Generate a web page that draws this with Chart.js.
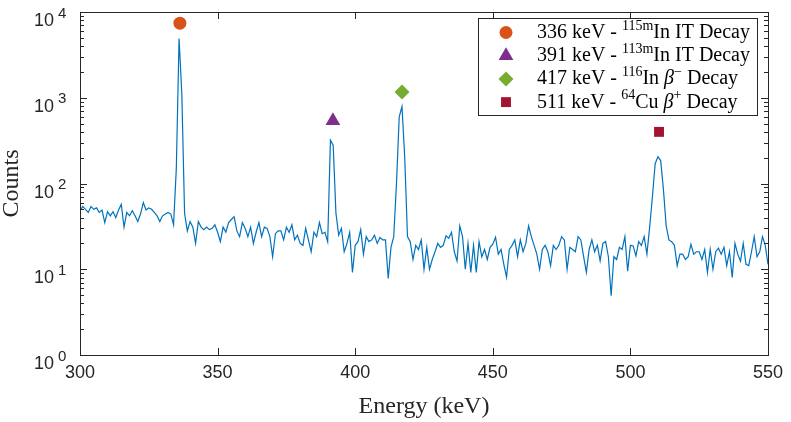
<!DOCTYPE html>
<html>
<head>
<meta charset="utf-8">
<script src="https://cdn.jsdelivr.net/npm/chart.js@4.4.1/dist/chart.umd.min.js"></script>
<style>
  html, body { margin: 0; padding: 0; background: #fff; }
  #wrap { width: 791px; height: 422px; }
</style>
</head>
<body>
<div id="wrap"><canvas id="spectrumChart" width="791" height="422"></canvas></div>
<script>
// spectrum: one channel per keV, first channel at 300 keV
const energyStart = 300;
const counts = [
  48, 54, 50, 46, 54, 50, 52, 46, 49, 35,
  47, 42, 47, 40, 49, 57, 31, 46, 42, 48,
  42, 36, 44, 60, 49, 52, 50, 46, 42, 36,
  42, 44, 46, 44, 33, 150, 4900, 1100, 45, 28,
  36, 31, 20, 36, 31, 29, 31, 29, 30, 33,
  27, 21, 31, 27, 35, 38, 41, 28, 24, 35,
  30, 24, 31, 20, 27, 35, 24, 31, 30, 24,
  14, 26, 28, 28, 22, 31, 27, 33, 22, 25,
  20, 19, 30, 22, 16, 27, 24, 35, 26, 27,
  21, 320, 280, 45, 25, 30, 16, 20, 27, 9.2,
  19, 21, 29, 15, 24, 21, 22, 25, 20, 23.5,
  22, 22, 7.8, 18, 24, 100, 600, 790, 200, 24,
  21, 13, 19, 17, 22, 10, 18, 10, 13, 16,
  20, 18, 19, 24.5, 23, 27, 16, 12.5, 32, 24,
  10, 20, 9.2, 19, 9.2, 21, 14, 17, 13, 18,
  19.6, 23.6, 15, 17, 11.4, 8.1, 17, 19, 22, 14,
  22, 16, 20, 32, 24, 19, 15, 10, 17, 19,
  16, 11, 19, 17, 19, 24, 22, 10, 18, 17,
  16, 24, 22, 14, 9.2, 17, 22, 16, 19, 12.5,
  20, 21, 14, 4.9, 14, 13, 18, 17, 24, 9.5,
  19, 18.7, 14.3, 21, 19, 24, 15, 31, 70, 170,
  205, 185, 85, 32, 22, 21, 19, 11, 15, 15,
  13, 14, 19.6, 15, 16, 16, 13, 17, 9.2, 17,
  10, 16, 17.6, 15, 18, 11, 16, 8, 20, 15,
  12.4, 20, 11.4, 11, 16, 24, 14, 16, 24, 19,
  11.4
];
const energies = counts.map((c, i) => energyStart + i);

// peak markers
const peakEnergies = [336.3, 391.9, 417.0, 510.4];
const peakMarkerCounts = [7400, 540, 1170, 400];
const peakColors = ['#D95319', '#7E2F8E', '#77AC30', '#A2142F'];
const peakStyles = ['circle', 'triangle', 'rectRot', 'rect'];
const peakRadius = [6.5, 8.5, 7.5, 7];
const peakLabels = [
  '336 keV - ^{115m}In IT Decay',
  '391 keV - ^{113m}In IT Decay',
  '417 keV - ^{116}In β^{−} Decay',
  '511 keV - ^{64}Cu β^{+} Decay'
];

const xTicks = [300, 350, 400, 450, 500, 550];
const yDecades = [0, 1, 2, 3, 4];

const axisColor = '#262626';
const sansFont = '"Liberation Sans", Arial, sans-serif';
const serifFont = '"Liberation Serif", "Times New Roman", serif';

function drawMarker(ctx, style, x, y, r) {
  ctx.beginPath();
  if (style === 'circle') {
    ctx.arc(x, y, r, 0, Math.PI * 2);
  } else if (style === 'triangle') {
    for (let k = 0; k < 3; k++) {
      const a = k * 2 * Math.PI / 3;
      const px = x + Math.sin(a) * r, py = y - Math.cos(a) * r;
      k ? ctx.lineTo(px, py) : ctx.moveTo(px, py);
    }
  } else if (style === 'rectRot') {
    ctx.moveTo(x - r, y); ctx.lineTo(x, y - r); ctx.lineTo(x + r, y); ctx.lineTo(x, y + r);
  } else {
    const s = r * Math.SQRT1_2;
    ctx.rect(x - s, y - s, 2 * s, 2 * s);
  }
  ctx.closePath();
  ctx.fill();
}

// draw "text ^{sup} β" style labels
function drawRich(ctx, str, x, y, size) {
  const parts = str.split(/(\^\{[^}]*\}|β)/).filter(p => p.length);
  parts.forEach(p => {
    let txt = p, font = size + 'px ' + serifFont, dy = 0;
    if (p.startsWith('^{')) {
      txt = p.slice(2, -1);
      font = Math.round(size * 0.68) + 'px ' + serifFont;
      dy = -size * 0.42;
    } else if (p === 'β') {
      font = 'italic ' + size + 'px ' + serifFont;
    }
    ctx.font = font;
    ctx.fillText(txt, x, y + dy);
    x += ctx.measureText(txt).width;
  });
}

const axesFrame = {
  id: 'axesFrame',
  afterDraw(chart) {
    const { ctx, chartArea: a, scales: { x, y } } = chart;
    ctx.save();
    ctx.strokeStyle = axisColor;
    ctx.lineWidth = 1;
    ctx.beginPath();
    // x ticks (inward, bottom and top)
    xTicks.forEach(v => {
      const px = Math.round(x.getPixelForValue(v)) + 0.5;
      ctx.moveTo(px, a.bottom); ctx.lineTo(px, a.bottom - 7);
      ctx.moveTo(px, a.top); ctx.lineTo(px, a.top + 7);
    });
    // y ticks major + minor
    yDecades.forEach(d => {
      for (let m = 1; m <= 9; m++) {
        const v = m * Math.pow(10, d);
        if (v > 10000) break;
        const py = Math.round(y.getPixelForValue(v)) + 0.5;
        const len = m === 1 ? 7 : 4;
        ctx.moveTo(a.left, py); ctx.lineTo(a.left + len, py);
        ctx.moveTo(a.right, py); ctx.lineTo(a.right - len, py);
      }
    });
    ctx.stroke();
    ctx.strokeRect(Math.round(a.left) + 0.5, Math.round(a.top) + 0.5,
      Math.round(a.right - a.left), Math.round(a.bottom - a.top));

    // y tick labels 10^n
    ctx.fillStyle = axisColor;
    ctx.textBaseline = 'alphabetic';
    yDecades.forEach(d => {
      const py = y.getPixelForValue(Math.pow(10, d));
      ctx.font = '18px ' + sansFont;
      ctx.textAlign = 'right';
      ctx.fillText('10', 54, py + 14);
      ctx.font = '15px ' + sansFont;
      ctx.textAlign = 'left';
      ctx.fillText(String(d), 58, py + 5.5);
    });

    // legend box
    const bx = 478.5, by = 18.5, bw = 279, bh = 97;
    ctx.fillStyle = '#fff';
    ctx.fillRect(bx, by, bw, bh);
    ctx.strokeRect(bx, by, bw, bh);
    ctx.textAlign = 'left';
    peakLabels.forEach((lab, i) => {
      const cy = 32.5 + i * 23.2;
      ctx.fillStyle = peakColors[i];
      drawMarker(ctx, peakStyles[i], 506, cy, peakRadius[i]);
      ctx.fillStyle = '#000';
      drawRich(ctx, lab, 537, cy + 5.5, 20);
    });
    ctx.restore();
  }
};

const datasets = [{
  label: 'Spectrum',
  data: energies.map((e, i) => ({ x: e, y: counts[i] })),
  borderColor: '#0072BD',
  borderWidth: 1.2,
  pointRadius: 0,
  tension: 0,
  fill: false
}];
peakEnergies.forEach((e, i) => {
  datasets.push({
    label: peakLabels[i],
    data: [{ x: e, y: peakMarkerCounts[i] }],
    showLine: false,
    pointStyle: peakStyles[i],
    pointRadius: peakRadius[i],
    backgroundColor: peakColors[i],
    borderColor: peakColors[i],
    borderWidth: 0
  });
});

const ctx = document.getElementById('spectrumChart').getContext('2d');
new Chart(ctx, {
  type: 'line',
  data: { datasets: datasets },
  options: {
    responsive: false,
    animation: false,
    events: [],
    layout: { padding: { top: 12, right: 23, left: 0, bottom: 0 } },
    plugins: {
      legend: { display: false },
      tooltip: { enabled: false }
    },
    scales: {
      x: {
        type: 'linear',
        min: 300,
        max: 550,
        grid: { display: false, drawTicks: false },
        border: { display: false },
        ticks: {
          stepSize: 50,
          autoSkip: false,
          maxRotation: 0,
          padding: 7,
          color: axisColor,
          font: { family: sansFont, size: 18 }
        },
        title: {
          display: true,
          text: 'Energy (keV)',
          color: axisColor,
          padding: { top: 0, bottom: 3 },
          font: { family: serifFont, size: 24, lineHeight: 1 }
        },
        afterFit: s => { s.height = 67; }
      },
      y: {
        type: 'logarithmic',
        min: 1,
        max: 10000,
        grid: { display: false },
        border: { display: false },
        ticks: { display: false },
        title: {
          display: true,
          text: 'Counts',
          color: axisColor,
          padding: { top: 0, bottom: 0 },
          font: { family: serifFont, size: 24, lineHeight: 1 }
        },
        afterFit: s => { s.width = 80; }
      }
    }
  },
  plugins: [axesFrame]
});
</script>
</body>
</html>
